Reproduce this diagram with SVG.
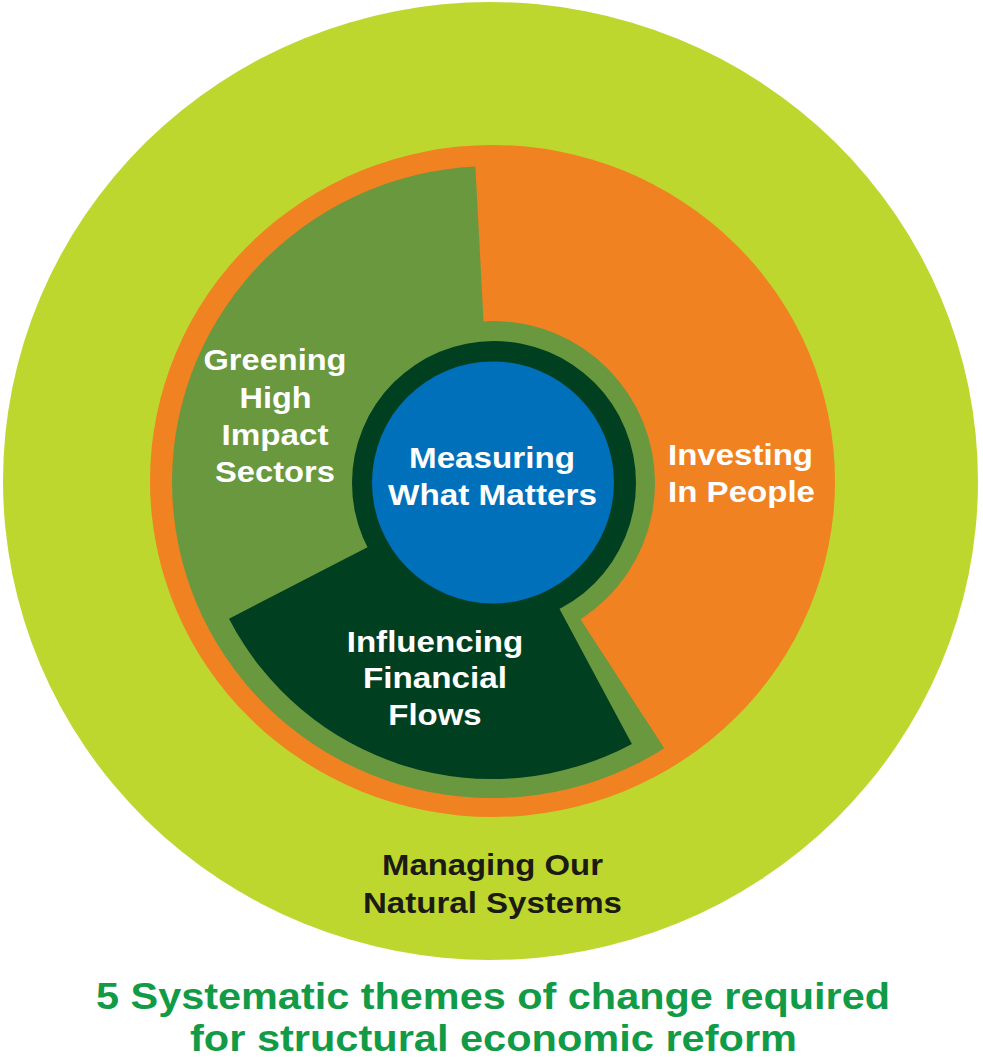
<svg xmlns="http://www.w3.org/2000/svg" width="983" height="1058" viewBox="0 0 983 1058">
  <style>
    .lbl { font-family: "Liberation Sans", Arial, sans-serif; font-weight: bold; font-size: 29.5px; text-anchor: middle; fill: #ffffff; }
    .dark { fill: #1b1b14; }
    .start { text-anchor: start; }
    .title { font-family: "Liberation Sans", Arial, sans-serif; font-weight: bold; font-size: 37.5px; text-anchor: middle; fill: #119b47; }
  </style>
  <rect width="983" height="1058" fill="#ffffff"/>

  <g id="managing-natural-systems">
    <ellipse cx="490.5" cy="481" rx="487.5" ry="479" fill="#bed72f"/>
    <text class="lbl dark" x="492.5" y="875" textLength="221" lengthAdjust="spacingAndGlyphs">Managing Our</text>
    <text class="lbl dark" x="492.5" y="912.5" textLength="259" lengthAdjust="spacingAndGlyphs">Natural Systems</text>
  </g>

  <g id="ring-base">
    <ellipse cx="492.5" cy="481" rx="342.5" ry="336" fill="#f08222"/>
    <ellipse cx="492" cy="482" rx="320" ry="316" fill="#69983f"/>
  </g>

  <g id="investing-in-people">
    <path d="M 492 483 L 474.4 147.5 A 336 336 0 0 1 675 764.8 Z" fill="#f08222"/>
    <text class="lbl start" x="668" y="465" textLength="145" lengthAdjust="spacingAndGlyphs">Investing</text>
    <text class="lbl start" x="668" y="501.7" textLength="147" lengthAdjust="spacingAndGlyphs">In People</text>
  </g>

  <g id="greening-high-impact-sectors">
    <circle cx="493" cy="483" r="162" fill="#69983f"/>
    <text class="lbl" x="275" y="370" textLength="143" lengthAdjust="spacingAndGlyphs">Greening</text>
    <text class="lbl" x="275.5" y="407.5" textLength="72" lengthAdjust="spacingAndGlyphs">High</text>
    <text class="lbl" x="275" y="445" textLength="107" lengthAdjust="spacingAndGlyphs">Impact</text>
    <text class="lbl" x="275" y="481.7" textLength="120" lengthAdjust="spacingAndGlyphs">Sectors</text>
  </g>

  <g id="influencing-financial-flows">
    <path d="M 492 483 L 631.9 743.9 A 296 296 0 0 1 229 618.7 Z" fill="#003f20"/>
    <text class="lbl" x="435" y="651.7" textLength="176.6" lengthAdjust="spacingAndGlyphs">Influencing</text>
    <text class="lbl" x="435" y="688" textLength="144" lengthAdjust="spacingAndGlyphs">Financial</text>
    <text class="lbl" x="435" y="725" textLength="93.3" lengthAdjust="spacingAndGlyphs">Flows</text>
  </g>

  <g id="measuring-what-matters">
    <circle cx="494" cy="483" r="142" fill="#003f20"/>
    <circle cx="493" cy="482.5" r="121" fill="#0070ba"/>
    <text class="lbl" x="492" y="468.3" textLength="166" lengthAdjust="spacingAndGlyphs">Measuring</text>
    <text class="lbl" x="492.5" y="505" textLength="209" lengthAdjust="spacingAndGlyphs">What Matters</text>
  </g>

  <g id="connectors"></g>

  <g id="title">
    <text class="title" x="493" y="1008.5" textLength="794" lengthAdjust="spacingAndGlyphs">5 Systematic themes of change required</text>
    <text class="title" x="493.5" y="1051" textLength="607" lengthAdjust="spacingAndGlyphs">for structural economic reform</text>
  </g>
</svg>
